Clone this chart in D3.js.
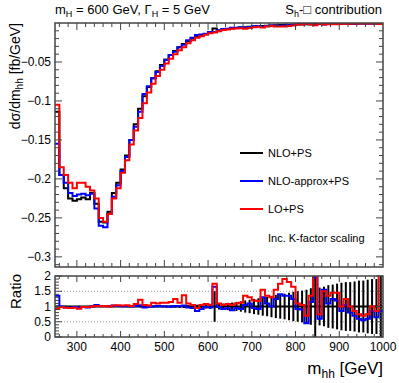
<!DOCTYPE html>
<html>
<head>
<meta charset="utf-8">
<script src="https://cdn.jsdelivr.net/npm/d3@7/dist/d3.min.js"></script>
<style>
  body { margin: 0; background: #fff; }
  svg { font-family: "Liberation Sans", Arial, sans-serif; }
</style>
</head>
<body>
<script>
// bin low edges, 10 GeV bins from 250 to 1000
var binEdges = d3.range(250, 1001, 10);

// dsigma/dm_hh [fb/GeV]
var nloPS = [-0.114, -0.195, -0.212, -0.225, -0.228, -0.226, -0.224, -0.226, -0.218, -0.232,
  -0.255, -0.256, -0.242, -0.218, -0.205, -0.188, -0.170, -0.150, -0.130, -0.110,
  -0.094, -0.082, -0.071, -0.062, -0.054, -0.047, -0.041, -0.036, -0.031, -0.027,
  -0.023, -0.020, -0.018, -0.016, -0.014, -0.012, -0.007, -0.0095, -0.0085, -0.0078,
  -0.0071, -0.0065, -0.0059, -0.0054, -0.0049, -0.0045, -0.0041, -0.0037, -0.0034, -0.0031,
  -0.0029, -0.0026, -0.0024, -0.0022, -0.0020, -0.0018, -0.0017, -0.0016, -0.0015, -0.0012,
  -0.0013, -0.0012, -0.0012, -0.0011, -0.0011, -0.0010, -0.0010, -0.0009, -0.0009, -0.0008,
  -0.0008, -0.0008, -0.0007, -0.0007, -0.0006];
var nloApproxPS = [-0.155, -0.195, -0.205, -0.218, -0.222, -0.220, -0.219, -0.221, -0.219, -0.238,
  -0.260, -0.262, -0.245, -0.223, -0.208, -0.190, -0.172, -0.150, -0.133, -0.114,
  -0.091, -0.081, -0.071, -0.063, -0.055, -0.047, -0.041, -0.037, -0.031, -0.028,
  -0.022, -0.019, -0.0153, -0.0147, -0.0137, -0.0116, -0.0116, -0.0093, -0.0078, -0.0073,
  -0.0062, -0.0062, -0.0054, -0.0057, -0.0054, -0.0043, -0.0038, -0.0048, -0.0037, -0.0031,
  -0.0036, -0.0036, -0.0032, -0.0030, -0.0025, -0.0017, -0.0015, -0.0007, -0.0017, -0.0023,
  -0.0008, -0.0019, -0.0013, -0.0014, -0.0013, -0.0009, -0.0011, -0.0008, -0.0007, -0.0006,
  -0.0005, -0.0005, -0.0007, -0.0005, -0.0004];
var loPS = [-0.105, -0.185, -0.195, -0.205, -0.212, -0.205, -0.205, -0.210, -0.215, -0.225,
  -0.250, -0.255, -0.245, -0.225, -0.212, -0.192, -0.176, -0.156, -0.138, -0.122,
  -0.103, -0.089, -0.078, -0.068, -0.060, -0.052, -0.046, -0.040, -0.035, -0.031,
  -0.026, -0.022, -0.019, -0.017, -0.015, -0.013, -0.0123, -0.0105, -0.0089, -0.0084,
  -0.0075, -0.0072, -0.0066, -0.0073, -0.0064, -0.0054, -0.0048, -0.0057, -0.0046, -0.0040,
  -0.0045, -0.0046, -0.0046, -0.0040, -0.0033, -0.0020, -0.0018, -0.0011, -0.0020, -0.0030,
  -0.0010, -0.0018, -0.0016, -0.0016, -0.0016, -0.0010, -0.0013, -0.0010, -0.0008, -0.0007,
  -0.0006, -0.0006, -0.0007, -0.0005, -0.0012];

// ratio panel (to NLO+PS)
var ratioApprox = [1.35, 1.0, 0.97, 0.96, 0.98, 0.97, 0.98, 0.97, 1.0, 1.05,
  1.02, 1.02, 1.01, 1.03, 1.02, 1.01, 1.01, 1.0, 1.02, 1.04,
  0.97, 0.99, 1.0, 1.02, 1.01, 1.0, 0.99, 1.02, 1.01, 1.03,
  0.97, 0.95, 0.85, 0.92, 0.98, 0.97, 1.65, 0.98, 0.92, 0.94,
  0.88, 0.95, 0.92, 1.05, 1.1, 0.95, 0.92, 1.3, 1.1, 1.0,
  1.25, 1.4, 1.35, 1.35, 1.25, 0.92, 0.9, 0.45, 1.15, 1.95,
  0.6, 1.55, 1.1, 1.25, 1.2, 0.85, 1.05, 0.8, 0.7, 0.6,
  0.55, 0.6, 0.85, 0.65, 0.85];
var ratioLO = [0.92, 0.98, 0.96, 0.95, 0.96, 0.93, 0.98, 0.98, 1.0, 1.02,
  1.01, 1.02, 1.0, 1.03, 1.04, 1.03, 1.04, 1.02, 1.08, 1.22,
  1.05, 1.03, 1.12, 1.1, 1.12, 1.12, 1.15, 1.25, 1.12, 1.37,
  1.1, 1.05, 0.95, 1.05, 1.08, 1.06, 1.75, 1.1, 1.05, 1.08,
  1.05, 1.1, 1.12, 1.35, 1.3, 1.2, 1.18, 1.55, 1.35, 1.3,
  1.55, 1.75, 1.9, 1.8, 1.65, 1.1, 1.05, 0.7, 1.35, 2.5,
  0.75, 1.5, 1.35, 1.45, 1.45, 1.0, 1.25, 1.0, 0.85, 0.75,
  0.7, 0.75, 1.0, 0.85, 2.5];
var nloErr = [0.03, 0.02, 0.02, 0.02, 0.02, 0.02, 0.02, 0.02, 0.02, 0.02,
  0.02, 0.02, 0.02, 0.02, 0.02, 0.02, 0.02, 0.02, 0.02, 0.03,
  0.03, 0.03, 0.03, 0.03, 0.03, 0.04, 0.04, 0.04, 0.05, 0.05,
  0.05, 0.06, 0.06, 0.07, 0.07, 0.08, 0.5, 0.1, 0.1, 0.12,
  0.13, 0.15, 0.17, 0.2, 0.22, 0.25, 0.27, 0.3, 0.32, 0.35,
  0.38, 0.4, 0.42, 0.45, 0.48, 0.5, 0.52, 0.55, 0.6, 1.5,
  0.62, 0.65, 0.7, 0.72, 0.75, 0.78, 0.8, 0.8, 0.82, 0.85,
  0.85, 0.88, 0.9, 0.9, 1.5];

var legendNames = ["NLO+PS", "NLO-approx+PS", "LO+PS"];
var colors = ["#000000", "#0000ff", "#ff0000"];

var W = 399, H = 383;
var left = 55, right = 383;
var mainTop = 23, mainBottom = 267;
var ratTop = 276, ratBottom = 337;
var frameColor = "#444";

var x = d3.scaleLinear().domain([250, 1000]).range([left, right]);
var y = d3.scaleLinear().domain([-0.313, 0]).range([mainBottom, mainTop]);
var yr = d3.scaleLinear().domain([0, 2]).range([ratBottom, ratTop]);

var svg = d3.select("body").append("svg")
  .attr("width", W)
  .attr("height", H);

var defs = svg.append("defs");
defs.append("clipPath").attr("id", "clipMain").append("rect")
  .attr("x", left).attr("y", mainTop).attr("width", right - left).attr("height", mainBottom - mainTop);
defs.append("clipPath").attr("id", "clipRat").append("rect")
  .attr("x", left).attr("y", ratTop).attr("width", right - left).attr("height", ratBottom - ratTop);

function stepPoints(vals) {
  var pts = vals.map(function(v, i) { return [binEdges[i], v]; });
  pts.push([binEdges[vals.length], vals[vals.length - 1]]);
  return pts;
}

// ratio reference lines
[0.5, 1.5].forEach(function(v) {
  svg.append("line")
    .attr("x1", left).attr("x2", right)
    .attr("y1", yr(v)).attr("y2", yr(v))
    .attr("stroke", "#999").attr("stroke-width", 1)
    .attr("stroke-dasharray", "1,2");
});

// main histograms
var mainLine = d3.line()
  .x(function(d) { return x(d[0]); })
  .y(function(d) { return y(d[1]); })
  .curve(d3.curveStepAfter);
var gMain = svg.append("g").attr("clip-path", "url(#clipMain)");
[nloPS, nloApproxPS, loPS].forEach(function(vals, k) {
  gMain.append("path")
    .attr("d", mainLine(stepPoints(vals)))
    .attr("fill", "none")
    .attr("stroke", colors[k])
    .attr("stroke-width", 2);
});

// ratio panel
var ratLine = d3.line()
  .x(function(d) { return x(d[0]); })
  .y(function(d) { return yr(d[1]); })
  .curve(d3.curveStepAfter);
var gRat = svg.append("g").attr("clip-path", "url(#clipRat)");
gRat.selectAll(".err")
  .data(nloErr)
  .enter().append("line")
    .attr("class", "err")
    .attr("x1", function(d, i) { return x(binEdges[i] + 5); })
    .attr("x2", function(d, i) { return x(binEdges[i] + 5); })
    .attr("y1", function(d) { return yr(1 - d); })
    .attr("y2", function(d) { return yr(1 + d); })
    .attr("stroke", "#000").attr("stroke-width", 2);
gRat.append("line")
  .attr("x1", left).attr("x2", right)
  .attr("y1", yr(1)).attr("y2", yr(1))
  .attr("stroke", "#000").attr("stroke-width", 2);
[ratioApprox, ratioLO].forEach(function(vals, k) {
  gRat.append("path")
    .attr("d", ratLine(stepPoints(vals)))
    .attr("fill", "none")
    .attr("stroke", colors[k + 1])
    .attr("stroke-width", 2);
});

// frames and ticks
function frame(top, bottom, yScale, yMajor, yMinor, majLen, minLen) {
  svg.append("rect")
    .attr("x", left).attr("y", top)
    .attr("width", right - left).attr("height", bottom - top)
    .attr("fill", "none").attr("stroke", frameColor).attr("stroke-width", 1.5);
  var g = svg.append("g").attr("stroke", frameColor).attr("stroke-width", 1);
  d3.range(260, 1000, 20).forEach(function(v) {
    var len = (v % 100 === 0) ? majLen : minLen;
    g.append("line").attr("x1", x(v)).attr("x2", x(v)).attr("y1", bottom).attr("y2", bottom - len);
    g.append("line").attr("x1", x(v)).attr("x2", x(v)).attr("y1", top).attr("y2", top + len);
  });
  yMinor.forEach(function(v) {
    var len = yMajor.indexOf(v) >= 0 ? 7 : 4;
    g.append("line").attr("x1", left).attr("x2", left + len).attr("y1", yScale(v)).attr("y2", yScale(v));
    g.append("line").attr("x1", right).attr("x2", right - len).attr("y1", yScale(v)).attr("y2", yScale(v));
  });
}

var mainMajor = [-0.3, -0.25, -0.2, -0.15, -0.1, -0.05];
var mainMinor = d3.range(-31, 0).map(function(i) { return +(i * 0.01).toFixed(2); });
frame(mainTop, mainBottom, y, mainMajor, mainMinor, 7, 4);

var ratMajor = [0, 0.5, 1, 1.5, 2];
var ratMinor = d3.range(0, 21).map(function(i) { return +(i * 0.1).toFixed(1); });
frame(ratTop, ratBottom, yr, ratMajor, ratMinor, 6, 3);

// tick labels
var fmt = function(v) { return String(v).replace("-", "\u2212"); };
svg.selectAll(".ylab")
  .data(mainMajor)
  .enter().append("text")
    .attr("x", 51)
    .attr("y", function(d) { return y(d) + 4; })
    .attr("text-anchor", "end")
    .style("font-size", "12px")
    .text(fmt);
svg.selectAll(".rlab")
  .data(ratMajor)
  .enter().append("text")
    .attr("x", 51)
    .attr("y", function(d) { return yr(d) + 4; })
    .attr("text-anchor", "end")
    .style("font-size", "12px")
    .text(function(d) { return d; });
svg.selectAll(".xlab")
  .data([300, 400, 500, 600, 700, 800, 900, 1000])
  .enter().append("text")
    .attr("x", function(d) { return x(d); })
    .attr("y", 351)
    .attr("text-anchor", "middle")
    .style("font-size", "12px")
    .text(function(d) { return d; });

// axis titles
var yt = svg.append("text")
  .attr("transform", "translate(20," + 23 + ") rotate(-90)")
  .attr("text-anchor", "end")
  .style("font-size", "14px");
yt.append("tspan").text("d\u03c3/dm");
yt.append("tspan").attr("dy", 3).style("font-size", "10px").text("hh");
yt.append("tspan").attr("dy", -3).text(" [fb/GeV]");

svg.append("text")
  .attr("transform", "translate(21," + 274 + ") rotate(-90)")
  .attr("text-anchor", "end")
  .style("font-size", "15px")
  .text("Ratio");

var xt = svg.append("text")
  .attr("x", 383).attr("y", 374)
  .attr("text-anchor", "end")
  .style("font-size", "17px");
xt.append("tspan").text("m");
xt.append("tspan").attr("dy", 4).style("font-size", "12px").text("hh");
xt.append("tspan").attr("dy", -4).text(" [GeV]");

// header
var t1 = svg.append("text").attr("x", 55).attr("y", 14).style("font-size", "13px");
t1.append("tspan").text("m");
t1.append("tspan").attr("dy", 3).style("font-size", "9px").text("H");
t1.append("tspan").attr("dy", -3).text(" = 600 GeV, \u0393");
t1.append("tspan").attr("dy", 3).style("font-size", "9px").text("H");
t1.append("tspan").attr("dy", -3).text(" = 5 GeV");

var t2 = svg.append("text").attr("x", 382).attr("y", 14).attr("text-anchor", "end").style("font-size", "13px");
t2.append("tspan").text("S");
t2.append("tspan").attr("dy", 3).style("font-size", "9px").text("h");
t2.append("tspan").attr("dy", -3).text("-\u25a1 contribution");

// legend
var leg = svg.append("g");
legendNames.forEach(function(name, i) {
  var ly = 153 + i * 28;
  leg.append("line")
    .attr("x1", 240).attr("x2", 263)
    .attr("y1", ly).attr("y2", ly)
    .attr("stroke", colors[i]).attr("stroke-width", 2);
  leg.append("text")
    .attr("x", 268).attr("y", ly + 4)
    .style("font-size", "11px")
    .text(name);
});
leg.append("text")
  .attr("x", 268).attr("y", 242)
  .style("font-size", "11px")
  .text("Inc. K-factor scaling");
</script>
</body>
</html>
